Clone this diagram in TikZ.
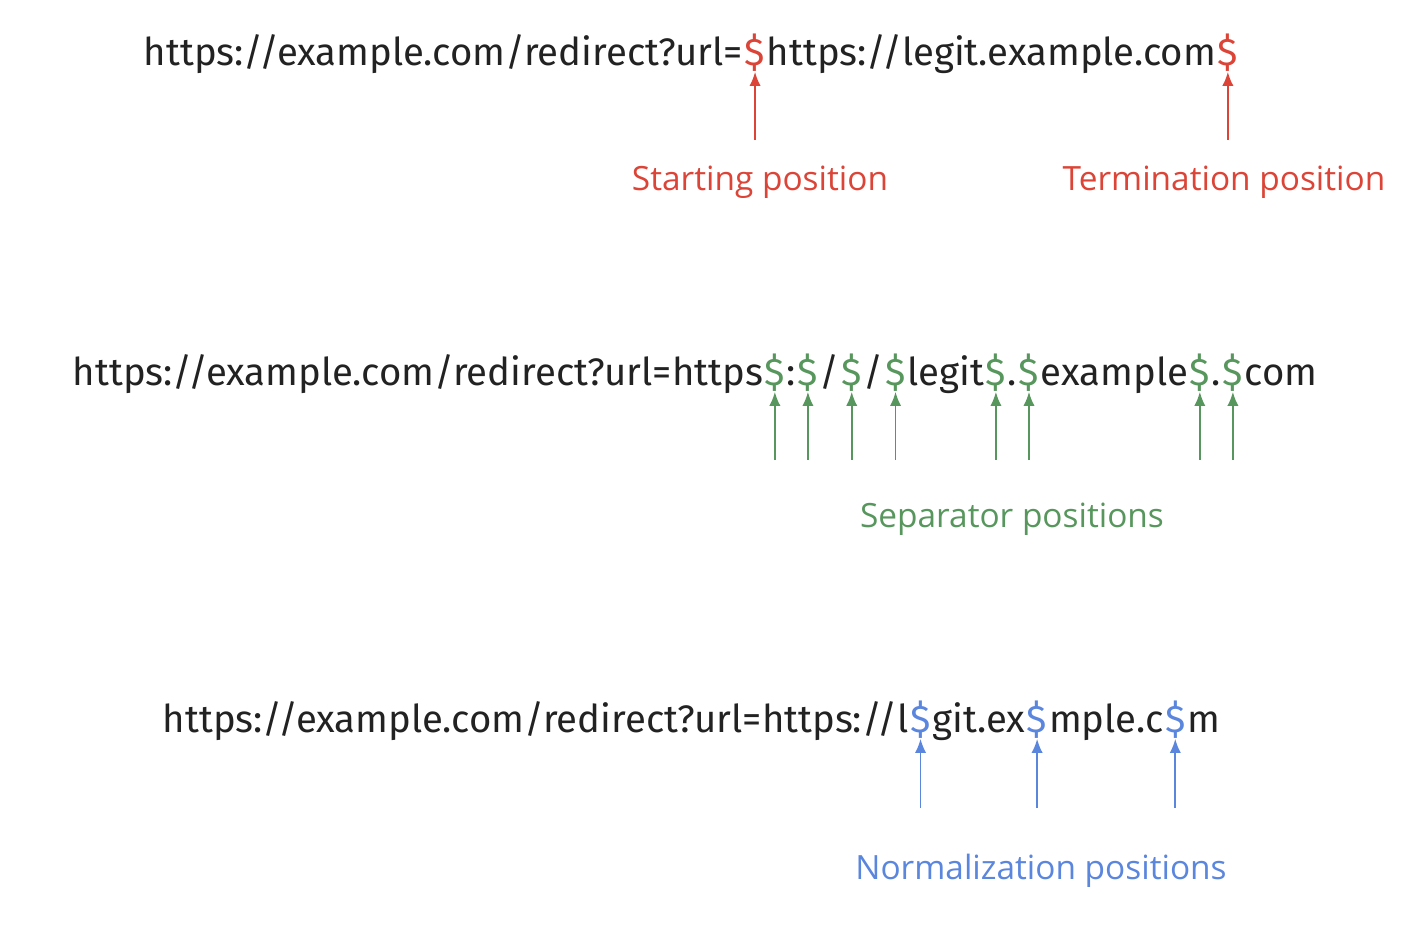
\documentclass[tikz,border=0pt]{standalone}
\usepackage{fontspec}
\setmainfont{Open Sans}
\newfontfamily\urlfont{Fira Sans}
\usepackage{tikz}
\usetikzlibrary{positioning,arrows.meta}

\definecolor{urlgray}{RGB}{34,34,34}
\definecolor{startred}{RGB}{219,68,55}
\definecolor{sepgreen}{RGB}{87,150,92}
\definecolor{normblue}{RGB}{91,134,222}

\begin{document}
\begin{tikzpicture}[x=0.01cm,y=-0.01cm,>={Latex[length=4pt,width=3.2pt]},line width=0.5pt]
\tikzstyle{seg}=[inner sep=0pt, anchor=base west, text=urlgray, font=\urlfont\fontsize{10.9}{13}\selectfont]
\tikzstyle{tag}=[inner sep=0pt, anchor=base, font=\fontsize{9.5}{12}\selectfont]

\useasboundingbox (0,0) rectangle (1418,948);

% Start / termination
\node[seg] at (143,65) (u1a) {https://example.com/redirect?url=};
\node[seg, text=startred] at (u1a.base east) (d1a) {\$};
\node[seg] at (d1a.base east) (u1b) {https://legit.example.com};
\node[seg, text=startred] at (u1b.base east) (d1b) {\$};
\coordinate (tail1) at (0,140);
\foreach \d in {d1a,d1b}
  \draw[->, startred] (\d.south |- tail1) -- (\d.south);
\node[tag, text=startred] at (760,190) (lstart) {Starting position};
\node[tag, text=startred] at (1224,190) (lterm) {Termination position};

% Separators
\node[seg] at (72,385) (u2a) {https://example.com/redirect?url=https};
\node[seg, text=sepgreen] at (u2a.base east) (d2a) {\$};
\node[seg] at (d2a.base east) (u2b) {:};
\node[seg, text=sepgreen] at (u2b.base east) (d2b) {\$};
\node[seg] at (d2b.base east) (u2c) {/};
\node[seg, text=sepgreen] at (u2c.base east) (d2c) {\$};
\node[seg] at (d2c.base east) (u2d) {/};
\node[seg, text=sepgreen] at (u2d.base east) (d2d) {\$};
\node[seg] at (d2d.base east) (u2e) {legit};
\node[seg, text=sepgreen] at (u2e.base east) (d2e) {\$};
\node[seg] at (d2e.base east) (u2f) {.};
\node[seg, text=sepgreen] at (u2f.base east) (d2f) {\$};
\node[seg] at (d2f.base east) (u2g) {example};
\node[seg, text=sepgreen] at (u2g.base east) (d2g) {\$};
\node[seg] at (d2g.base east) (u2h) {.};
\node[seg, text=sepgreen] at (u2h.base east) (d2h) {\$};
\node[seg] at (d2h.base east) (u2i) {com};
\coordinate (tail2) at (0,460);
\foreach \d in {d2a,d2b,d2c,d2d,d2e,d2f,d2g,d2h}
  \draw[->, sepgreen] (\d.south |- tail2) -- (\d.south);
\node[tag, text=sepgreen] at (1012,527) (lsep) {Separator positions};

% Normalization
\node[seg] at (162,732) (u3a) {https://example.com/redirect?url=https://l};
\node[seg, text=normblue] at (u3a.base east) (d3a) {\$};
\node[seg] at (d3a.base east) (u3b) {git.ex};
\node[seg, text=normblue] at (u3b.base east) (d3b) {\$};
\node[seg] at (d3b.base east) (u3c) {mple.c};
\node[seg, text=normblue] at (u3c.base east) (d3c) {\$};
\node[seg] at (d3c.base east) (u3d) {m};
\coordinate (tail3) at (0,808);
\foreach \d in {d3a,d3b,d3c}
  \draw[->, normblue] (\d.south |- tail3) -- (\d.south);
\node[tag, text=normblue] at (1041,879) (lnorm) {Normalization positions};

\end{tikzpicture}
\end{document}
